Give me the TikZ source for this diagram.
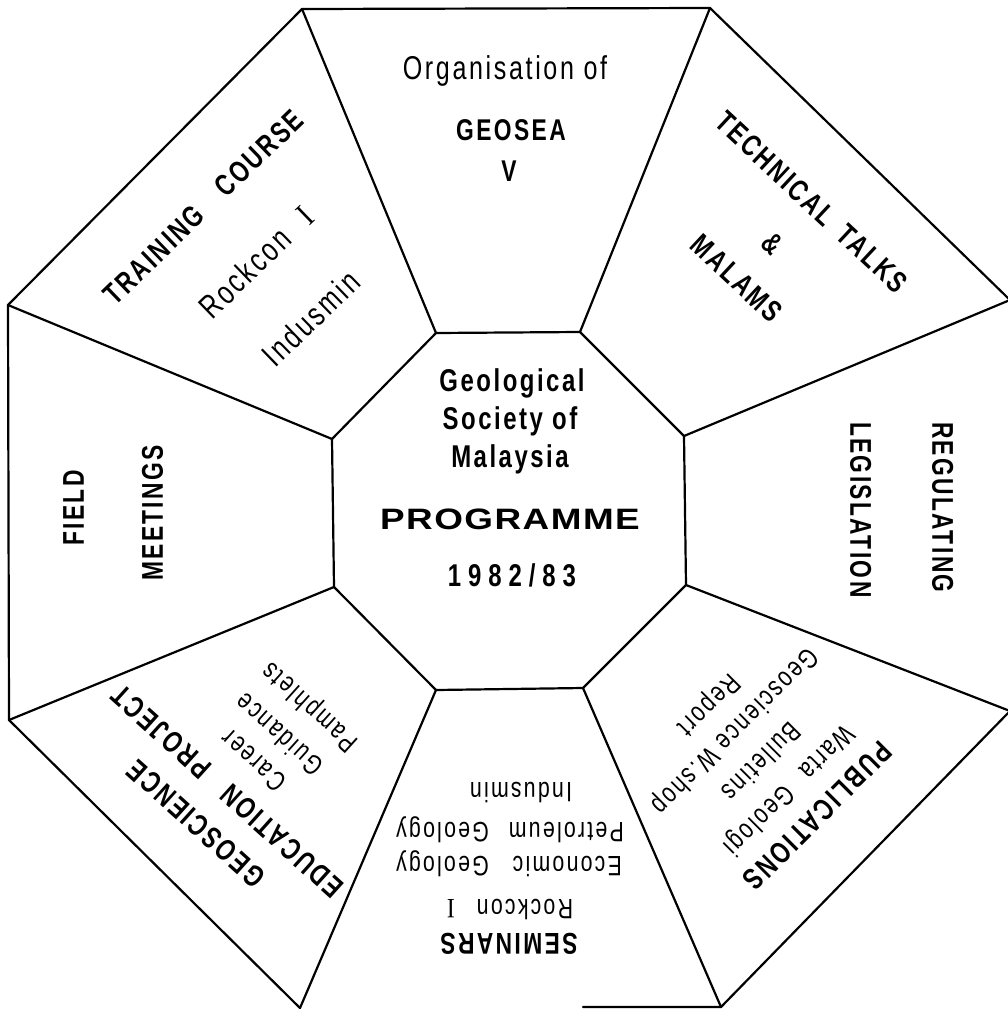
\documentclass[tikz,border=0pt]{standalone}
\usepackage{fontspec}
\setmainfont{Liberation Sans}[FakeStretch=0.76, LetterSpace=8]
\newfontfamily\wideface{Liberation Sans}[FakeStretch=1.25, LetterSpace=5]
\newfontfamily\serifI{Liberation Serif}[FakeStretch=0.85]
\begin{document}
\begin{tikzpicture}[x=1pt,y=-1pt,
  edge/.style={line width=2.2pt, line cap=round, line join=round},
  txt/.style={inner sep=0pt, outer sep=0pt, text depth=0pt, anchor=center},
  hd/.style={txt, font=\fontsize{30}{30}\selectfont\bfseries, text height=21.5pt},
  rg/.style={txt, font=\fontsize{28}{28}\selectfont, text height=20pt},
  rgbig/.style={txt, font=\fontsize{33}{33}\selectfont, text height=23.6pt},
  ct/.style={txt, font=\fontsize{31.5}{31.5}\selectfont\bfseries, text height=22.5pt},
  prog/.style={txt, font=\fontsize{29.5}{29.5}\wideface\bfseries, text height=21pt}]
\useasboundingbox (0,0) rectangle (1007,1009);
\fill[white] (0,0) rectangle (1007,1009);
% outer octagon vertices
\coordinate (O1) at (302,9);
\coordinate (O2) at (710,8);
\coordinate (O3) at (1010,300);
\coordinate (O4) at (1010,711);
\coordinate (O5) at (721,1007);
\coordinate (O6) at (300,1008);
\coordinate (O7) at (9,720);
\coordinate (O8) at (8,305);
\coordinate (B1) at (583,1007);
% inner octagon vertices
\coordinate (I1) at (436,333);
\coordinate (I2) at (580,332);
\coordinate (I3) at (684,436);
\coordinate (I4) at (686,585);
\coordinate (I5) at (583,688);
\coordinate (I6) at (436,690);
\coordinate (I7) at (334,587);
\coordinate (I8) at (332,439);
% outer outline (bottom edge only partly printed)
\draw[edge] (B1) -- (O5) -- (O4) -- (O3) -- (O2) -- (O1) -- (O8) -- (O7) -- (O6);
% inner octagon
\draw[edge] (I1) -- (I2) -- (I3) -- (I4) -- (I5) -- (I6) -- (I7) -- (I8) -- cycle;
% spokes
\foreach \k in {1,...,8} \draw[edge] (O\k) -- (I\k);

% centre
\node[ct] (geol) at (512,380) {Geological};
\node[ct] (soc) at (510,418) {Society of};
\node[ct] (mal) at (510,456) {Malaysia};
\node[prog] (prog) at (510,519) {PROGRAMME};
\node[ct] (year) at (512,575) {\addfontfeature{LetterSpace=22}1982/83};

% top
\node[txt, font=\fontsize{33}{33}\selectfont, text height=23.6pt] (org) at (505,68) {Organisation of};
\node[hd] (geosea) at (511,130) {GEOSEA};
\node[hd] (five) at (509,171) {V};

% top left
\node[hd, rotate=44] (train) at (203,207) {TRAINING\hspace{28pt}COURSE};
\node[rgbig, rotate=44] (rock1) at (256,262) {Rockcon\hspace{22pt}{\serifI I}};
\node[rgbig, rotate=44] (indus1) at (311,318) {Indusmin};

% top right
\node[hd, rotate=-43] (tech) at (812,202) {TECHNICAL\hspace{15pt}TALKS};
\node[hd, rotate=-43] (amp) at (773,243) {\&};
\node[hd, rotate=-43] (malams) at (737,278) {MALAMS};

% right
\node[hd, rotate=-90, anchor=west] (regul) at (943,422) {REGULATING};
\node[hd, rotate=-90, anchor=west] (legis) at (861,422) {LEGISLATION};

% left
\node[hd, rotate=90] (field) at (73,508) {FIELD};
\node[hd, rotate=90] (meet) at (152,513) {MEETINGS};

% bottom right
\node[hd, rotate=225] (publ) at (818,816) {PUBLICATIONS};
\node[rg, rotate=225] (warta) at (790,791) {Warta\hspace{20pt}Geologi};
\node[rg, rotate=225] (bull) at (762,762) {Bulletins};
\node[rg, rotate=225] (gws) at (736,732) {Geoscience W.shop};
\node[rg, rotate=225] (report) at (710,706) {Report};

% bottom
\node[hd, rotate=180] (semi) at (509,944) {SEMINARS};
\node[rg, rotate=180] (rock2) at (510,909) {Rockcon\hspace{22pt}{\serifI I}};
\node[rg, rotate=180] (econ) at (509,866) {Economic\hspace{24pt}Geology};
\node[rg, rotate=180] (petro) at (510,832) {Petroleum\hspace{20pt}Geology};
\node[rg, rotate=180] (indus2) at (521,792) {Indusmin};

% bottom left
\node[hd, rotate=138] (geosci) at (196,824) {GEOSCIENCE};
\node[hd, rotate=138] (edu) at (227,792) {EDUCATION\hspace{25pt}PROJECT};
\node[rg, rotate=138] (career) at (253,761) {Career};
\node[rg, rotate=138] (guid) at (279,735) {Guidance};
\node[rg, rotate=138] (pamph) at (309,708) {Pamphlets};
\end{tikzpicture}
\end{document}
